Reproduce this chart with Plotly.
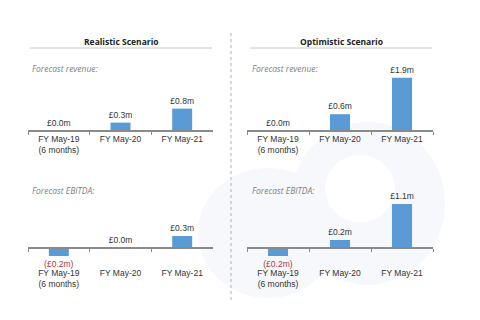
import plotly.graph_objects as go

W, H = 480, 320

categories = ["FY May-19<br>(6 months)", "FY May-20", "FY May-21"]
scenarios = ["Realistic Scenario", "Optimistic Scenario"]
revenue_realistic = [0.0, 0.3, 0.8]
revenue_optimistic = [0.0, 0.6, 1.9]
ebitda_realistic = [-0.2, 0.0, 0.3]
ebitda_optimistic = [-0.2, 0.2, 1.1]
section_labels = ["Forecast revenue:", "Forecast EBITDA:"]

BAR = "#5b9bd5"
TXT = "#333333"
NEG = "#b03a3a"


def fmt(v):
    return f"(£{abs(v):.1f}m)" if v < 0 else f"£{v:.1f}m"


def px_x(p):
    return p / W


def px_y(p):
    return 1 - p / H


fig = go.Figure()

# panel geometry (pixels)
x_doms = [(28, 213), (247, 433)]
rev_dom = (70, 131)      # top, bottom (baseline at bottom)
ebit_dom = (198, 258)    # top, bottom
ebit_base = 248

series = [
    (revenue_realistic, 0, "rev"),
    (revenue_optimistic, 1, "rev"),
    (ebitda_realistic, 0, "ebit"),
    (ebitda_optimistic, 1, "ebit"),
]

layout_axes = {}
for i, (vals, col, kind) in enumerate(series, start=1):
    xa = "x" if i == 1 else f"x{i}"
    ya = "y" if i == 1 else f"y{i}"
    fig.add_trace(go.Bar(
        x=categories, y=vals, xaxis=xa, yaxis=ya,
        marker=dict(color=BAR, line=dict(width=0)),
        text=[fmt(v) for v in vals],
        textposition="outside",
        constraintext="none",
        textfont=dict(family="Arial, Liberation Sans", size=8.5,
                      color=[NEG if v < 0 else TXT for v in vals]),
        cliponaxis=False,
        showlegend=False,
        hoverinfo="skip",
    ))
    x0, x1 = x_doms[col]
    if kind == "rev":
        top, bot = rev_dom
        base = bot
        scale = 28.0
        standoff = 0
    else:
        top, bot = ebit_dom
        base = ebit_base
        scale = 40.0
        standoff = 17
    yr = [-(bot - base) / scale, (base - top) / scale]
    layout_axes["xaxis" if i == 1 else f"xaxis{i}"] = dict(
        domain=[px_x(x0), px_x(x1)], anchor="free", position=px_y(base),
        type="category", showline=True, linecolor="#8a8a8a", linewidth=1.5,
        ticks="outside", tickson="boundaries", ticklen=3, tickcolor="#8a8a8a",
        tickwidth=1, showgrid=False, zeroline=False,
        ticklabelstandoff=standoff,
        tickfont=dict(family="Arial, Liberation Sans", size=8.5, color=TXT),
        fixedrange=True,
    )
    layout_axes["yaxis" if i == 1 else f"yaxis{i}"] = dict(
        domain=[px_y(bot), px_y(top)], range=yr, anchor=xa,
        visible=False, fixedrange=True,
    )

fig.update_layout(**layout_axes)
fig.update_layout(bargap=0.676)

shapes = []
# faint watermark
wm = "#f6f8fb"
shapes.append(dict(type="circle", xref="paper", yref="paper", layer="below",
                   x0=px_x(198), x1=px_x(338), y0=px_y(298), y1=px_y(168),
                   fillcolor=wm, line=dict(width=0)))
shapes.append(dict(type="circle", xref="paper", yref="paper", layer="below",
                   x0=px_x(290), x1=px_x(445), y0=px_y(285), y1=px_y(122),
                   fillcolor=wm, line=dict(width=0)))
shapes.append(dict(type="circle", xref="paper", yref="paper", layer="below",
                   x0=px_x(325), x1=px_x(395), y0=px_y(222), y1=px_y(155),
                   fillcolor="white", line=dict(width=0)))

# title underlines
for (a, b) in [(30, 212), (250, 432)]:
    shapes.append(dict(type="line", xref="paper", yref="paper",
                       x0=px_x(a), x1=px_x(b), y0=px_y(48), y1=px_y(48),
                       line=dict(color="#c8c8c8", width=1)))
# dotted divider
shapes.append(dict(type="line", xref="paper", yref="paper",
                   x0=px_x(231), x1=px_x(231), y0=px_y(33), y1=px_y(300),
                   line=dict(color="#b0b0b0", width=1, dash="dot")))
fig.update_layout(shapes=shapes)

annotations = []
for (name, cx) in zip(scenarios, [121, 341]):
    annotations.append(dict(text=f"<b>{name}</b>", x=px_x(cx), y=px_y(41),
                            xref="paper", yref="paper", showarrow=False,
                            xanchor="center", yanchor="middle",
                            font=dict(family="Open Sans, DejaVu Sans", size=8.5, color="#222")))
for (lab, yy) in zip(section_labels, [68, 190]):
    for lx in [30, 250]:
        annotations.append(dict(text=f"<i>{lab}</i>", x=px_x(lx), y=px_y(yy),
                                xref="paper", yref="paper", showarrow=False,
                                xanchor="left", yanchor="middle",
                                font=dict(family="Open Sans, DejaVu Sans", size=8.5, color="#808080")))
fig.update_layout(annotations=annotations)

fig.update_layout(
    width=W, height=H, margin=dict(l=0, r=0, t=0, b=0),
    paper_bgcolor="white", plot_bgcolor="rgba(0,0,0,0)",
)

fig.write_html("out.html", config={"displayModeBar": False})
